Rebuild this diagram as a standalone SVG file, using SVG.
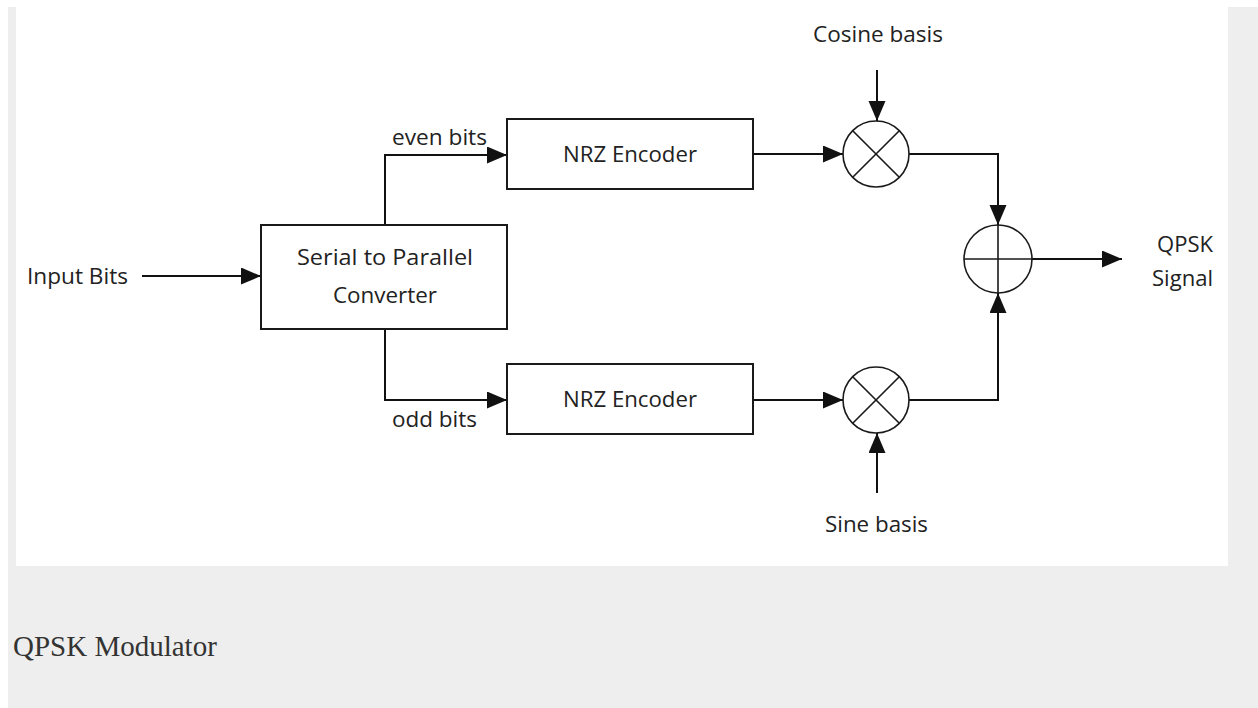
<svg xmlns="http://www.w3.org/2000/svg" width="1258" height="708" viewBox="0 0 1258 708">
  <style>
    .box { fill: #ffffff; stroke: #1a1a1a; stroke-width: 2; }
    .op { fill: #ffffff; stroke: #1a1a1a; stroke-width: 1.6; }
    .opmark { stroke: #1a1a1a; stroke-width: 1.6; fill: none; }
    .wire { fill: none; stroke: #111111; stroke-width: 2; }
    .lbl { font-family: "Open Sans", "Liberation Sans", sans-serif; font-size: 21px; fill: #222222; }
    .caption { font-family: "Liberation Serif", "Times New Roman", serif; font-size: 29px; fill: #333333; }
  </style>
  <defs>
    <marker id="arrow" markerUnits="userSpaceOnUse" markerWidth="20" markerHeight="18" refX="20" refY="8.5" orient="auto">
      <path d="M0,0 L20,8.5 L0,17 Z" fill="#111111"/>
    </marker>
  </defs>

  <!-- page background and figure panel -->
  <rect x="0" y="0" width="1258" height="708" fill="#ffffff"/>
  <rect x="8" y="7" width="1250" height="701" fill="#eeeeee"/>
  <rect x="16" y="0" width="1212" height="566" fill="#ffffff"/>

  <!-- connectors -->
  <g id="connectors">
    <path class="wire" d="M142,276 H261" marker-end="url(#arrow)"/>
    <path class="wire" d="M385,225 V155 H507" marker-end="url(#arrow)"/>
    <path class="wire" d="M385,329 V400 H507" marker-end="url(#arrow)"/>
    <path class="wire" d="M753,154 H843" marker-end="url(#arrow)"/>
    <path class="wire" d="M753,400 H843" marker-end="url(#arrow)"/>
    <path class="wire" d="M877,70 V121" marker-end="url(#arrow)"/>
    <path class="wire" d="M877,493 V433" marker-end="url(#arrow)"/>
    <path class="wire" d="M909,154 H998 V225" marker-end="url(#arrow)"/>
    <path class="wire" d="M909,400 H998 V293" marker-end="url(#arrow)"/>
    <path class="wire" d="M1032,259 H1122" marker-end="url(#arrow)"/>
  </g>

  <!-- input label -->
  <g id="input-bits">
    <text class="lbl" x="27" y="284" textLength="101" lengthAdjust="spacingAndGlyphs">Input Bits</text>
  </g>

  <!-- serial to parallel converter -->
  <g id="s2p">
    <rect class="box" x="261" y="225" width="246" height="104"/>
    <text class="lbl" x="297" y="265" textLength="176" lengthAdjust="spacingAndGlyphs">Serial to Parallel</text>
    <text class="lbl" x="333" y="303" textLength="104" lengthAdjust="spacingAndGlyphs">Converter</text>
  </g>

  <!-- branch labels -->
  <g id="even-label">
    <text class="lbl" x="392" y="145" textLength="95" lengthAdjust="spacingAndGlyphs">even bits</text>
  </g>
  <g id="odd-label">
    <text class="lbl" x="392" y="427" textLength="85" lengthAdjust="spacingAndGlyphs">odd bits</text>
  </g>

  <!-- NRZ encoders -->
  <g id="nrz-even">
    <rect class="box" x="507" y="119" width="246" height="70"/>
    <text class="lbl" x="563" y="162" textLength="134" lengthAdjust="spacingAndGlyphs">NRZ Encoder</text>
  </g>
  <g id="nrz-odd">
    <rect class="box" x="507" y="364" width="246" height="70"/>
    <text class="lbl" x="563" y="407" textLength="134" lengthAdjust="spacingAndGlyphs">NRZ Encoder</text>
  </g>

  <!-- carrier inputs -->
  <g id="cosine-basis">
    <text class="lbl" x="813" y="42" textLength="130" lengthAdjust="spacingAndGlyphs">Cosine basis</text>
  </g>
  <g id="sine-basis">
    <text class="lbl" x="825" y="532" textLength="103" lengthAdjust="spacingAndGlyphs">Sine basis</text>
  </g>

  <!-- multipliers -->
  <g id="mixer-i">
    <circle class="op" cx="876" cy="154" r="33"/>
    <path class="opmark" d="M852.7,130.7 L899.3,177.3 M899.3,130.7 L852.7,177.3"/>
  </g>
  <g id="mixer-q">
    <circle class="op" cx="876" cy="400" r="33"/>
    <path class="opmark" d="M852.7,376.7 L899.3,423.3 M899.3,376.7 L852.7,423.3"/>
  </g>

  <!-- summer -->
  <g id="summer">
    <circle class="op" cx="998" cy="259" r="34"/>
    <path class="opmark" d="M964,259 H1032 M998,225 V293"/>
  </g>

  <!-- output label -->
  <g id="qpsk-out">
    <text class="lbl" x="1157" y="252" textLength="56" lengthAdjust="spacingAndGlyphs">QPSK</text>
    <text class="lbl" x="1152" y="286" textLength="61" lengthAdjust="spacingAndGlyphs">Signal</text>
  </g>

  <!-- figure caption -->
  <text class="caption" x="13" y="656">QPSK Modulator</text>
</svg>
